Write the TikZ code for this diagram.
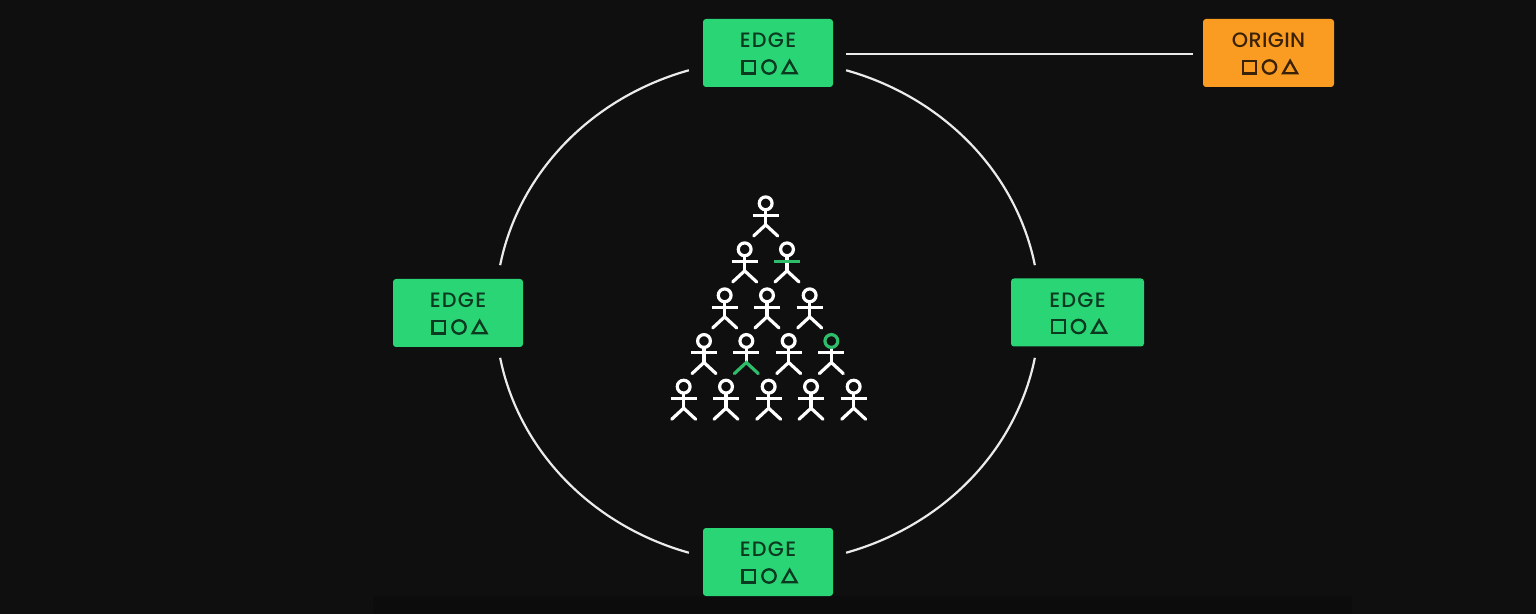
\documentclass[tikz,border=0pt]{standalone}
\usepackage{fontspec}
\setmainfont{Poppins}[UprightFont={* Medium},LetterSpace=6]
\definecolor{bgc}{HTML}{0F0F0F}
\definecolor{bandc}{HTML}{0C0C0C}
\definecolor{edgec}{HTML}{2AD576}
\definecolor{origc}{HTML}{FB9C22}
\definecolor{edgeink}{HTML}{0B3A20}
\definecolor{origink}{HTML}{3A2208}
\definecolor{figgreen}{HTML}{2EBD6B}
\tikzset{
  box/.style={rectangle,rounded corners=1.5pt,minimum height=34pt,inner sep=0pt,font=\fontsize{10.4pt}{11pt}\selectfont},
  edgebox/.style={box,fill=edgec,text=edgeink,minimum width=65pt},
  origbox/.style={box,fill=origc,text=origink,minimum width=65.5pt},
  wire/.style={draw=white!92!black,line width=1.1pt},
  limb/.style={line width=1.6pt,line cap=round},
  glyph/.style={line width=1.15pt,line join=miter},
}
% symbols: centred on the box centre
\newcommand{\symbols}[2]{%
  \draw[glyph,draw=#2] ($(#1)+(-25.5,7.8)$) rectangle ++(12.8,12.6);
  \draw[glyph,draw=#2] ($(#1)+(1,14)$) circle[radius=3.35pt];
  \draw[glyph,draw=#2] ($(#1)+(14.6,20.2)$) -- ++(14,0) -- ++(-7,-12.4) -- cycle;
}
% stick figure: x, y, head colour, arm colour, leg colour
\newcommand{\stick}[5]{%
  \begin{scope}[shift={(#1,#2)}]
    \draw[limb,white,line cap=butt] (0,6.6) -- (0,21.5);
    \draw[limb,#3] (0,0) circle[radius=3.2pt];
    \draw[limb,#4,line cap=butt] (-13,11.8) -- (13,11.8);
    \draw[limb,#5] (-12,32.6) -- (0,21.5) -- (12,32.6);
  \end{scope}}
\usetikzlibrary{calc}
\begin{document}
\begin{tikzpicture}[x=0.5pt,y=-0.5pt]
\useasboundingbox (0,0) rectangle (1536,614);
\fill[bgc] (0,0) rectangle (1536,614);
\fill[bandc] (373,596) rectangle (1352,614);
\draw[wire] plot[smooth,domain=10.6:73.2,samples=40] ({767.5+272*cos(\x)},{311.5+252*sin(\x)});
\draw[wire] plot[smooth,domain=106.8:169.4,samples=40] ({767.5+272*cos(\x)},{311.5+252*sin(\x)});
\draw[wire] plot[smooth,domain=190.6:253.2,samples=40] ({767.5+272*cos(\x)},{311.5+252*sin(\x)});
\draw[wire] plot[smooth,domain=286.8:349.4,samples=40] ({767.5+272*cos(\x)},{311.5+252*sin(\x)});
\node[edgebox] (top) at (768,53) {\raisebox{12.5pt}{EDGE}};
\node[edgebox] (left) at (458,313) {\raisebox{12.5pt}{EDGE}};
\node[edgebox,minimum width=66.5pt] (right) at (1077.5,312.5) {\raisebox{12.5pt}{EDGE}};
\node[edgebox] (bottom) at (768,562) {\raisebox{12.5pt}{EDGE}};
\node[origbox] (origin) at (1268.5,53) {\raisebox{12.5pt}{\addfontfeature{LetterSpace=1.5}ORIGIN}};
\symbols{top}{edgeink}
\symbols{left}{edgeink}
\symbols{right}{edgeink}
\symbols{bottom}{edgeink}
\symbols{origin}{origink}
\draw[wire,shorten <=6.5pt,shorten >=5pt] (top.east) ++(0,1) -- (origin.west |- 0,54);
\foreach \zx/\zy in {317/40,254/178,194/316,321/316,449/316,132/453,386/453,71/590,198/590,326/590,453/590,581/590}
  {\stick{\fpeval{660+\zx/3}}{\fpeval{190+\zy/3}}{white}{white}{white}}
\stick{\fpeval{660+381/3}}{\fpeval{190+178/3}}{white}{figgreen}{white}
\stick{\fpeval{660+259/3}}{\fpeval{190+453/3}}{white}{white}{figgreen}
\stick{\fpeval{660+514/3}}{\fpeval{190+453/3}}{figgreen}{white}{white}
\end{tikzpicture}
\end{document}
